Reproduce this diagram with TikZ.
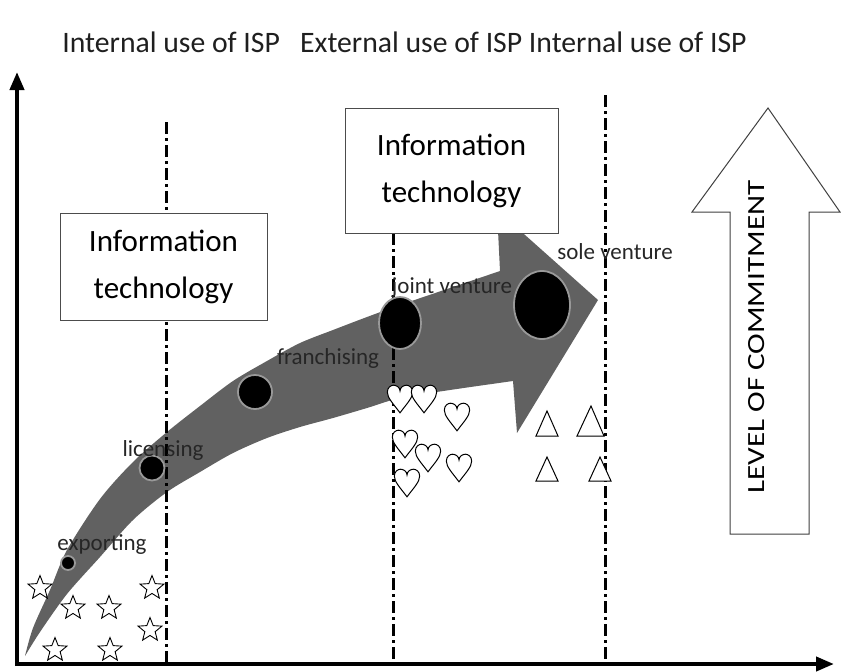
\documentclass[tikz,border=0pt]{standalone}
\usepackage{fontspec}
\setmainfont{Carlito}
\usetikzlibrary{shapes.geometric,arrows.meta}
\begin{document}
\begin{tikzpicture}[x=1pt,y=-1pt,
  axisline/.style={line width=4pt,-{Triangle[length=18pt,width=14pt]}},
  ddline/.style={line width=3pt,dash pattern=on 12pt off 4pt on 3pt off 4pt},
  itbox/.style={draw=black!70,line width=1pt,fill=white,align=center,inner sep=0,
    font=\fontsize{31}{47}\selectfont},
  lab/.style={font=\fontsize{23}{26}\selectfont,text=black!85,inner sep=0},
  dotc/.style={circle,fill=black,draw=black!40,line width=1.8pt,inner sep=0},
  dote/.style={ellipse,fill=black,draw=black!40,line width=1.8pt,inner sep=0},
  starmark/.style={star,star points=5,star point ratio=2.3,minimum size=25pt,draw,fill=white,line width=0.9pt,inner sep=0},
  trimark/.style={draw,fill=white,line width=1pt,line join=miter},
  heartmark/.style={draw,fill=white,line width=1pt},
  band/.style={fill=black!62},
  hollow/.style={draw=black!75,line width=1pt,fill=white},
  pics/heart/.style={code={
    \path[heartmark,scale=1.15] (0,12) .. controls (-6,4) and (-11,-1) .. (-11,-6)
      .. controls (-11,-10) and (-8,-12) .. (-5.5,-12)
      .. controls (-3,-12) and (0,-10) .. (0,-7)
      .. controls (0,-10) and (3,-12) .. (5.5,-12)
      .. controls (8,-12) and (11,-10) .. (11,-6)
      .. controls (11,-1) and (6,4) .. (0,12) -- cycle;
  }}
]
\useasboundingbox (0,0) rectangle (841,672);

% curved grey arrow
\path[band] (25,656) -- plot[smooth] coordinates {(25,656) (33,628) (50,590) (67,550) (100,499) (133,462) (167,432) (200,406) (233,381) (267,361) (300,343) (333,330) (367,317) (400,305) (450,288) (500,271)}
  -- (497,210) -- (598,300) -- (517,433) -- (513,381)
  -- plot[smooth] coordinates {(513,381) (450,390) (400,398) (367,408) (333,418) (300,427) (267,438) (233,453) (200,472) (167,492) (133,520) (100,557) (67,594) (40,632) (25,656)} -- cycle;

% dash-dot separators
\coordinate (l1t) at (166,122); \coordinate (l1b) at (166,663);
\coordinate (l2t) at (393,233); \coordinate (l2b) at (393,663);
\coordinate (l3t) at (605,95);  \coordinate (l3b) at (605,663);
\draw[ddline] (l1t) -- (l1b);
\draw[ddline] (l2t) -- (l2b);
\draw[ddline] (l3t) -- (l3b);

% stages
\node[dotc,minimum size=14pt] (dexp) at (68,563) {};
\node[dotc,minimum size=25pt] (dlic) at (152,468) {};
\node[dotc,minimum size=34pt] (dfra) at (255,392) {};
\node[dote,minimum width=42pt,minimum height=52pt] (djv) at (400,323) {};
\node[dote,minimum width=56pt,minimum height=68pt] (dsv) at (542,305) {};

\node[lab] (texp) at (102,545) {exporting};
\node[lab] (tlic) at (163,450) {licensing};
\node[lab] (tfra) at (328,358) {franchising};
\node[lab] (tjv) at (452,288) {joint venture};
\node[lab] (tsv) at (615,252) {sole venture};

% information technology boxes
\node[itbox,minimum width=207pt,minimum height=107pt] (it1) at (163.5,266.5) {Information\\technology};
\node[itbox,minimum width=213pt,minimum height=125pt] (it2) at (451.5,170.5) {Information\\technology};

% stars
\node[starmark] (s1) at (40,588) {};
\node[starmark] (s2) at (73,608) {};
\node[starmark] (s3) at (109,608) {};
\node[starmark] (s4) at (152,588) {};
\node[starmark] (s5) at (150,630) {};
\node[starmark] (s6) at (55,650) {};
\node[starmark] (s7) at (110,650) {};

% hearts
\pic at (400,399) {heart};
\pic at (424,399) {heart};
\pic at (457,417) {heart};
\pic at (405,444) {heart};
\pic at (428,458) {heart};
\pic at (459,468) {heart};
\pic at (407,483) {heart};

% triangles
\path[trimark] (536,436) -- (547,411) -- (558,436) -- cycle;
\path[trimark] (577,436) -- (591,406) -- (604,436) -- cycle;
\path[trimark] (536,481) -- (547,457) -- (558,481) -- cycle;
\path[trimark] (589,481) -- (600,457) -- (611,481) -- cycle;

% level of commitment arrow
\path[hollow] (730,534) -- (730,212) -- (692,212) -- (768,108) -- (840,212) -- (809,212) -- (809,534) -- cycle;
\node[rotate=90,inner sep=0] (loc) at (757,337) {\resizebox{313pt}{16pt}{LEVEL OF COMMITMENT}};

% axes
\coordinate (o) at (17,664);
\coordinate (ytop) at (17,72);
\coordinate (xend) at (834,664);
\draw[axisline] (17,666) -- (ytop);
\draw[axisline] (15,664) -- (xend);

% title
\node[font=\fontsize{29.7}{32}\selectfont,text=black!88,inner sep=0] (title) at (404.5,42) {Internal use of ISP\ \ \ External use of ISP Internal use of ISP};
\end{tikzpicture}
\end{document}
